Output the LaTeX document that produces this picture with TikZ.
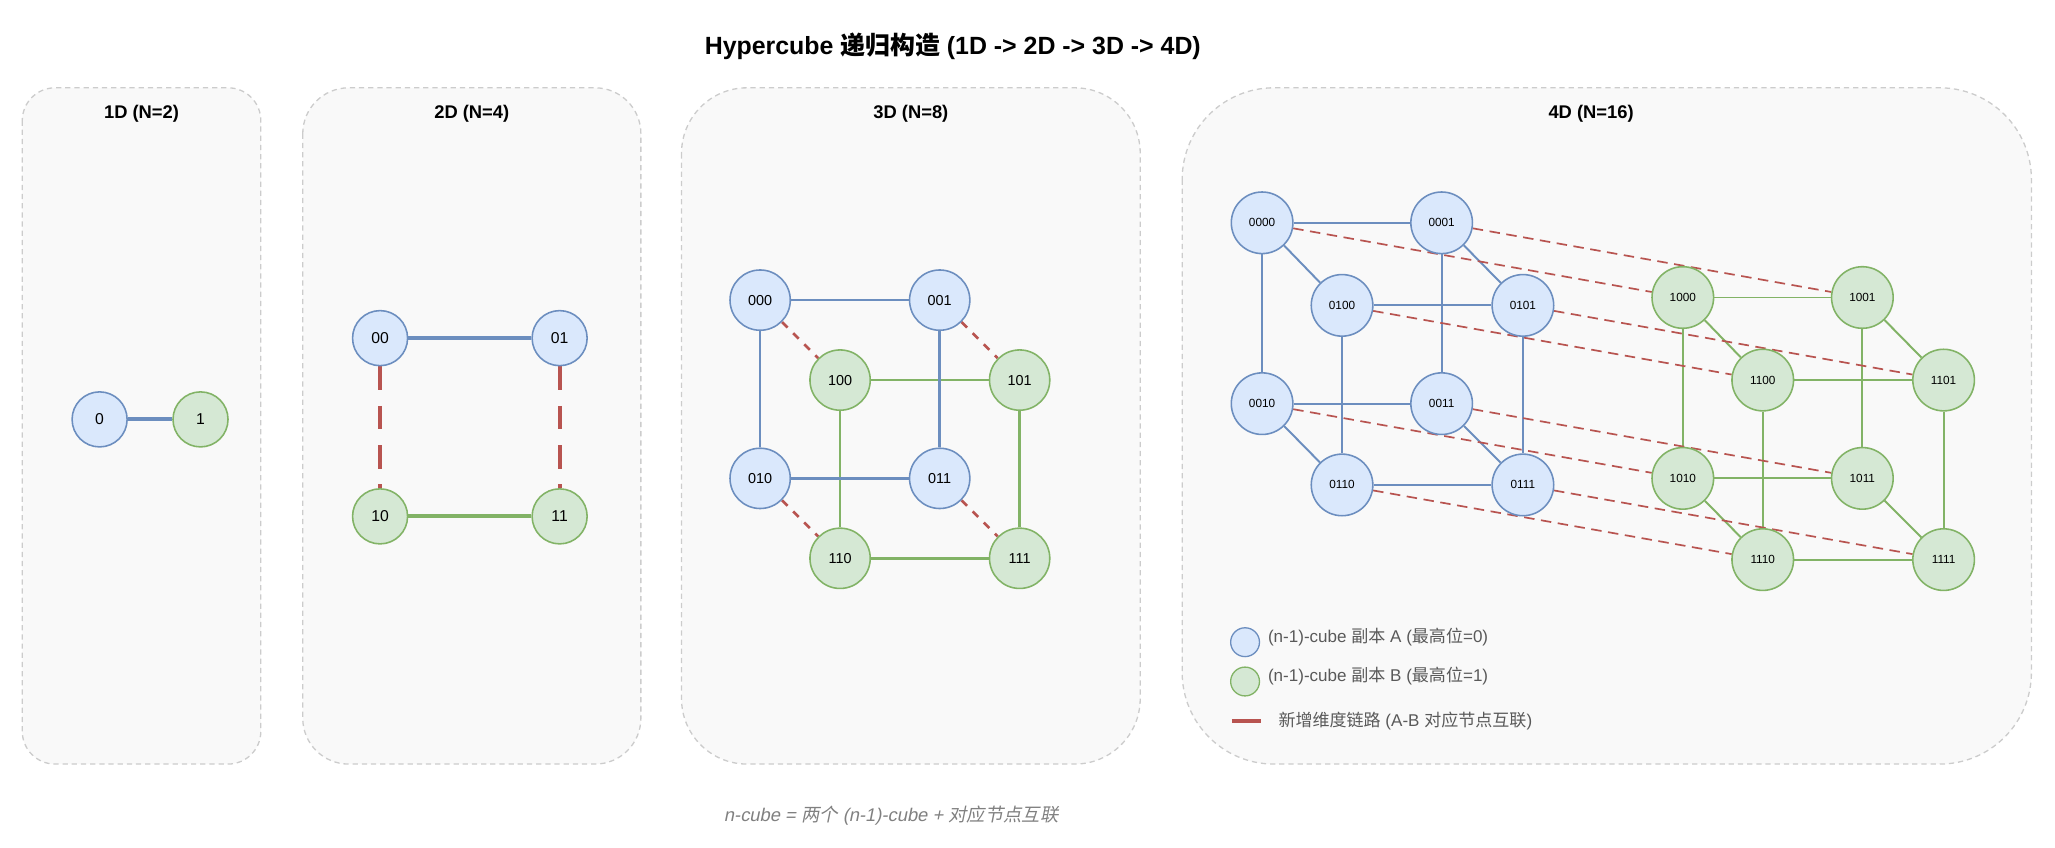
\documentclass[tikz,border=0pt]{standalone}
\usepackage{fontspec}
\setmainfont{Liberation Sans}
\newfontfamily\cjk{Noto Sans CJK SC}
\newfontfamily\cjkit[FakeSlant=0.2]{Noto Sans CJK SC}
\newfontfamily\latit[FakeSlant=0.2]{Liberation Sans}
\usetikzlibrary{backgrounds}
\pgfdeclarelayer{edges}
\pgfsetlayers{background,edges,main}
\definecolor{blueF}{HTML}{DAE8FC}
\definecolor{blueD}{HTML}{6C8EBF}
\definecolor{greenF}{HTML}{D5E8D4}
\definecolor{greenD}{HTML}{82B366}
\definecolor{redD}{HTML}{B85450}
\definecolor{panelF}{HTML}{F9F9F9}
\definecolor{panelD}{HTML}{CCCCCC}
\tikzset{
  panel/.style={draw=panelD, fill=panelF, dashed, line width=1pt, dash pattern=on 4pt off 3pt},
  ptitle/.style={font=\fontsize{14}{17}\selectfont\bfseries},
  nA/.style={circle, draw=blueD, fill=blueF, line width=1.2pt, minimum size=42pt, inner sep=0pt, font=\fontsize{12}{14}\selectfont},
  nB/.style={nA, draw=greenD, fill=greenF},
  small/.style={minimum size=47pt, font=\fontsize{9}{11}\selectfont},
  eA/.style={draw=blueD, line width=2pt},
  eB/.style={draw=greenD, line width=2pt},
  eX/.style={draw=redD, line width=2pt, dash pattern=on 6pt off 6pt},
  legend/.style={anchor=west, text=black!65, font=\fontsize{13}{15}\selectfont},
}
\begin{document}
\begin{tikzpicture}[x=1pt,y=1pt]
\useasboundingbox (0,0) rectangle (1568,-647);
% title
\node[font=\fontsize{19}{23}\selectfont\bfseries] (title) at (727,-35) {Hypercube {\cjk 递归构造} (1D -> 2D -> 3D -> 4D)};

% panels
\begin{scope}[on background layer]
  \draw[panel, rounded corners=25pt] (17,-67) rectangle (199,-583);
  \draw[panel, rounded corners=35pt] (231,-67) rectangle (489,-583);
  \draw[panel, rounded corners=50pt] (520,-67) rectangle (870,-583);
  \draw[panel, rounded corners=70pt] (902,-67) rectangle (1550,-583);
\end{scope}
\node[ptitle] (t1) at (108,-87) {1D (N=2)};
\node[ptitle] (t2) at (360,-87) {2D (N=4)};
\node[ptitle] (t3) at (695,-87) {3D (N=8)};
\node[ptitle] (t4) at (1214,-87) {4D (N=16)};

% 1D
\node[nA] (a0) at (76,-320) {0};
\node[nB] (a1) at (153,-320) {1};
\begin{pgfonlayer}{edges}
  \draw[eA, line width=3pt] (a0) -- (a1);
\end{pgfonlayer}

% 2D
\node[nA] (b00) at (290,-258) {00};
\node[nA] (b01) at (427,-258) {01};
\node[nB] (b10) at (290,-394) {10};
\node[nB] (b11) at (427,-394) {11};
\begin{pgfonlayer}{edges}
  \draw[eA, line width=3pt] (b00) -- (b01);
  \draw[eB, line width=3pt] (b10) -- (b11);
  \draw[eX, line width=3pt, dash pattern=on 18pt off 12pt] (b00) -- (b10);
  \draw[eX, line width=3pt, dash pattern=on 18pt off 12pt] (b01) -- (b11);
\end{pgfonlayer}

% 3D
\foreach \p/\x/\y in {00/580/229, 01/717/229, 10/580/365, 11/717/365}{
  \node[nA, minimum size=46pt, font=\fontsize{11}{13}\selectfont] (c0\p) at (\x,-\y) {0\p};
  \node[nB, minimum size=46pt, font=\fontsize{11}{13}\selectfont] (c1\p) at (\x+61,-\y-61) {1\p};
}
\begin{pgfonlayer}{edges}
  \foreach \u/\v in {00/01, 00/10, 01/11, 10/11}{
    \draw[eA] (c0\u) -- (c0\v);
    \draw[eB] (c1\u) -- (c1\v);
  }
  \foreach \u in {00, 01, 10, 11}
    \draw[eX] (c0\u) -- (c1\u);
\end{pgfonlayer}

% 4D
\foreach \p/\x/\y in {000/963/170, 001/1100/170, 100/1024/233, 101/1162/233,
                      010/963/308, 011/1100/308, 110/1024/370, 111/1162/370}{
  \node[nA, small] (d0\p) at (\x,-\y) {0\p};
  \node[nB, small] (d1\p) at (\x+321,-\y-57) {1\p};
}
\begin{pgfonlayer}{edges}
  \foreach \u/\v in {000/001, 000/100, 000/010, 001/101, 001/011, 100/101,
                     100/110, 101/111, 010/011, 010/110, 011/111, 110/111}{
    \draw[eA, line width=1.5pt] (d0\u) -- (d0\v);
    \draw[eB, line width=1.5pt] (d1\u) -- (d1\v);
  }
  \foreach \u in {000, 001, 100, 101, 010, 011, 110, 111}
    \draw[eX, line width=1.3pt, dash pattern=on 8pt off 5pt] (d0\u) -- (d1\u);
\end{pgfonlayer}

% legend
\node[nA, minimum size=22pt, line width=1pt] (lgA) at (950,-490) {};
\node[legend] (lgAt) at (964,-486) {(n-1)-cube {\cjk 副本} A ({\cjk 最高位}=0)};
\node[nB, minimum size=22pt, line width=1pt] (lgB) at (950,-520) {};
\node[legend] (lgBt) at (964,-516) {(n-1)-cube {\cjk 副本} B ({\cjk 最高位}=1)};
\coordinate (lgX1) at (940,-550);
\coordinate (lgX2) at (962,-550);
\draw[draw=redD, line width=3pt] (lgX1) -- (lgX2);
\node[legend] (lgXt) at (972,-550) {{\cjk 新增维度链路} (A-B {\cjk 对应节点互联})};

% footer
\node[text=black!50, font=\fontsize{14}{16}\selectfont] (foot) at (680,-622)
  {\latit n-cube = {\cjkit 两个} (n-1)-cube + {\cjkit 对应节点互联}};
\end{tikzpicture}
\end{document}
